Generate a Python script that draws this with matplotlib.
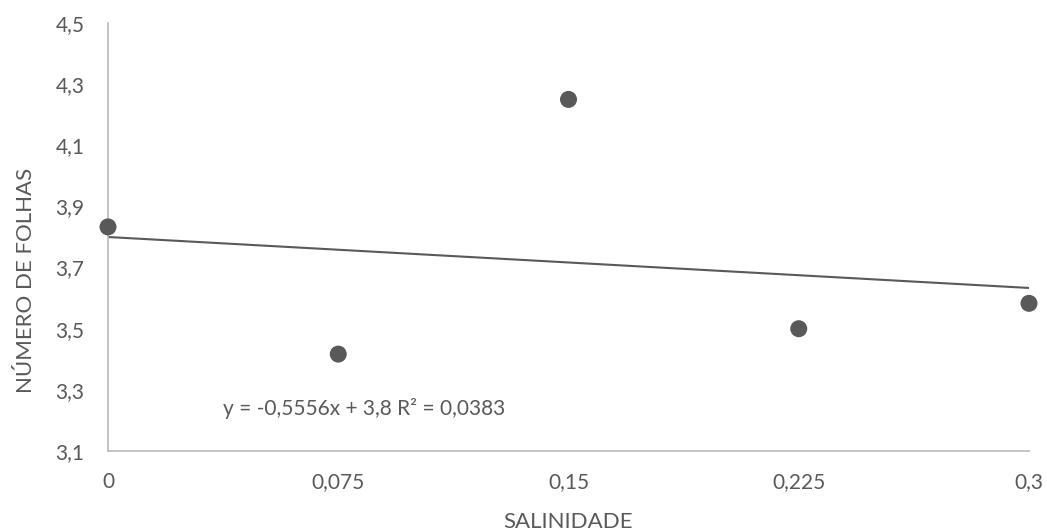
import numpy as np
import matplotlib
matplotlib.use("Agg")
import matplotlib.pyplot as plt

plt.rcParams['font.family'] = ['Lato', 'DejaVu Sans']

salinidade = [0, 0.075, 0.15, 0.225, 0.3]
folhas = [3.833, 3.417, 4.25, 3.5, 3.583]
x_ticks = [0, 0.075, 0.15, 0.225, 0.3]
x_labels = ["0", "0,075", "0,15", "0,225", "0,3"]
y_ticks = [3.1, 3.3, 3.5, 3.7, 3.9, 4.1, 4.3, 4.5]
y_labels = ["3,1", "3,3", "3,5", "3,7", "3,9", "4,1", "4,3", "4,5"]

# linear trendline from the fitted coefficients
slope, intercept = -0.5556, 3.8
r2 = 0.0383

grey = "#595959"
axis_grey = "#bfbfbf"

fig = plt.figure(figsize=(10.47, 5.31), dpi=100)
ax = fig.add_axes([108 / 1047, 1 - 451 / 531, 921 / 1047, 428 / 531])

xs = np.array([0, 0.3])
ax.plot(xs, slope * xs + intercept, color=grey, lw=1.5, zorder=2)
ax.scatter(salinidade, folhas, s=150, color=grey, edgecolors="none", zorder=3,
           clip_on=False)

ax.set_xlim(0, 0.3)
ax.set_ylim(3.1, 4.5)
ax.set_xticks(x_ticks)
ax.set_xticklabels(x_labels)
ax.set_yticks(y_ticks)
ax.set_yticklabels(y_labels)
ax.tick_params(length=0, labelsize=15, labelcolor=grey)
ax.tick_params(axis="x", pad=15)
ax.tick_params(axis="y", pad=17)

for side in ("top", "right"):
    ax.spines[side].set_visible(False)
for side in ("left", "bottom"):
    ax.spines[side].set_color(axis_grey)
    ax.spines[side].set_linewidth(1.3)

ax.text(0.0375, 3.24, f"y = -0,5556x + 3,8 R² = {r2:.4f}".replace(".", ","),
        fontsize=15, color=grey, va="center", ha="left")

fig.text(568 / 1047, 1 - 522 / 531, "SALINIDADE", fontsize=16, color=grey,
         ha="center", va="center")
fig.text(26 / 1047, 1 - 280 / 531, "NÚMERO DE FOLHAS", fontsize=16, color=grey,
         ha="center", va="center", rotation=90)

fig.savefig("out.png", dpi=100)
